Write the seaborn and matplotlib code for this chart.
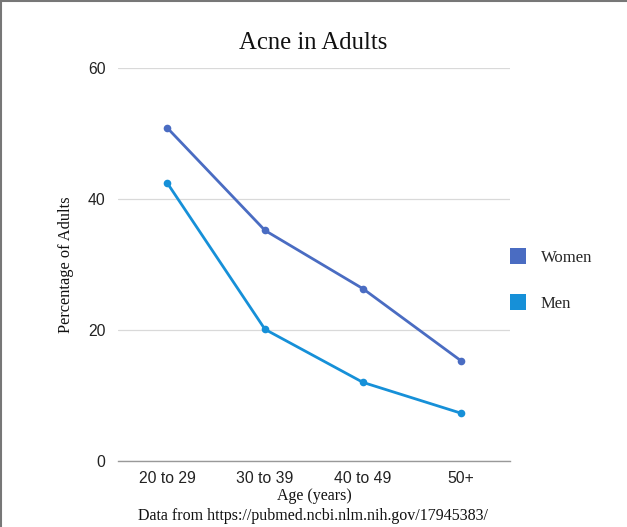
import matplotlib
matplotlib.use("Agg")
import matplotlib.pyplot as plt
import seaborn as sns
import pandas as pd
from matplotlib.lines import Line2D

age_groups = ["20 to 29", "30 to 39", "40 to 49", "50+"]
women = [50.9, 35.2, 26.3, 15.3]
men = [42.5, 20.1, 12.0, 7.3]
series_names = ["Women", "Men"]
colors = ["#4a6cc2", "#1690d8"]

df = pd.DataFrame({
    "age": age_groups * 2,
    "pos": list(range(len(age_groups))) * 2,
    "value": women + men,
    "series": [series_names[0]] * len(women) + [series_names[1]] * len(men),
})

sns.set_theme(style="white")
plt.rcParams["font.family"] = ["Liberation Sans", "DejaVu Sans"]

fig = plt.figure(figsize=(6.27, 5.27), dpi=100)
ax = fig.add_axes([118/627, 1-461/527, (510-118)/627, (461-68)/527])

sns.lineplot(data=df, x="pos", y="value", hue="series", palette=colors,
             marker="o", markersize=5.5, markeredgewidth=0, linewidth=2.0,
             ax=ax, legend=False)

ax.set_xlim(-0.5, len(age_groups) - 0.5)
ax.set_ylim(0, 60)
ax.set_yticks([0, 20, 40, 60])
ax.set_xticks(range(len(age_groups)))
ax.set_xticklabels(age_groups)
ax.tick_params(axis="both", length=0, labelsize=11.3, colors="#222222")
ax.tick_params(axis="y", pad=9)
ax.tick_params(axis="x", pad=7.5)
ax.yaxis.grid(True, color="#d9d9d9", linewidth=0.9)
ax.set_axisbelow(True)
for s in ["top", "right", "left"]:
    ax.spines[s].set_visible(False)
ax.spines["bottom"].set_color("#999999")
ax.spines["bottom"].set_linewidth(1.0)

serif = ["Liberation Serif", "DejaVu Serif"]
ax.set_xlabel("Age (years)", family=serif, fontsize=11.5, color="#111111", labelpad=1)
ax.set_ylabel("Percentage of Adults", family=serif, fontsize=11.8, color="#111111", labelpad=10)

fig.text(0.5, 1-43/527, "Acne in Adults", family=serif, fontsize=17.8,
         ha="center", va="center", color="#111111")
fig.text(0.5, 1-516/527, "Data from https://pubmed.ncbi.nlm.nih.gov/17945383/",
         family=serif, fontsize=11.5, ha="center", va="center", color="#111111")

handles = [Line2D([], [], marker="s", linestyle="none", markersize=11.5,
                  markerfacecolor=c, markeredgewidth=0) for c in colors]
fig.legend(handles, series_names, loc="center left",
           bbox_to_anchor=(495/627, 1-281/527), frameon=False,
           prop={"family": serif, "size": 12}, handletextpad=0.85,
           labelspacing=1.8, handlelength=1.0)

# figure border (top & left)
fig.add_artist(Line2D([0.001, 0.001], [0, 1], transform=fig.transFigure, color="#777777", linewidth=1.5))
fig.add_artist(Line2D([0, 1], [0.999, 0.999], transform=fig.transFigure, color="#777777", linewidth=1.5))

fig.savefig("out.png", dpi=100)
